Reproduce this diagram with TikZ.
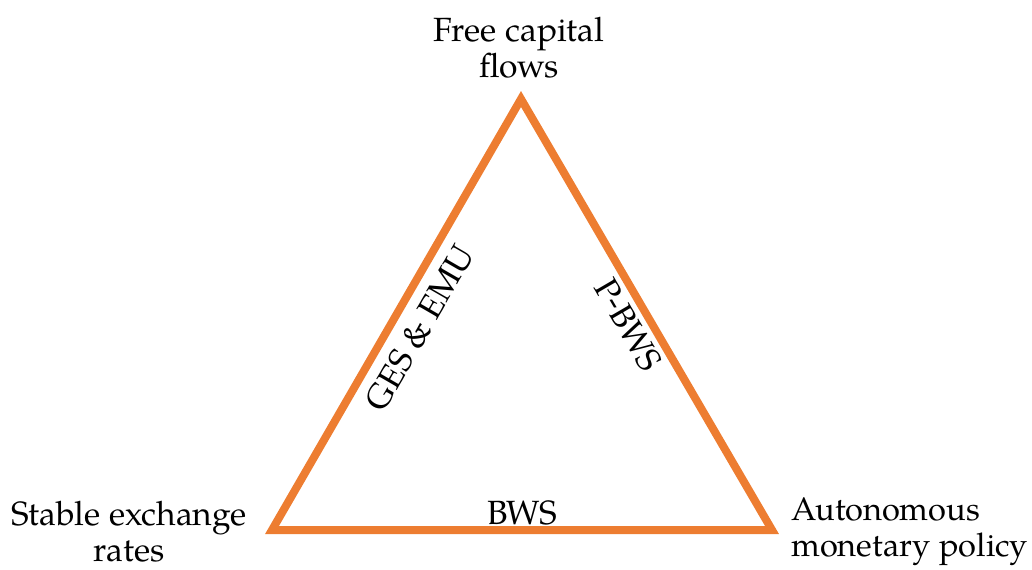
\documentclass[tikz,border=0pt]{standalone}
\usepackage{fontspec}
\setmainfont{TeX Gyre Pagella}
\definecolor{trilemma}{HTML}{ED7D31}
\tikzstyle{corner}=[align=center, inner sep=0pt, font=\fontsize{16.8}{18}\selectfont]
\tikzstyle{regime}=[inner sep=2pt, font=\fontsize{16.8}{18}\selectfont]
\newcommand{\corner}{\node[corner]}
\begin{document}
\begin{tikzpicture}[x=0.5pt, y=-0.5pt]
\useasboundingbox (0,0) rectangle (1032,569);
\coordinate (top) at (521,99);
\coordinate (left) at (272,530);
\coordinate (right) at (772,530);
\draw[trilemma, line width=4pt, line join=miter] (top) -- (left) -- (right) -- cycle;
\corner (fcf) at (519,48) {Free capital\\flows};
\corner (ser) at (129,532) {Stable exchange\\rates};
\corner[align=left, anchor=west, font=\fontsize{16.3}{18}\selectfont] (amp) at (791,532) {Autonomous\\monetary policy};
\path
(left) -- node[regime, midway, sloped, below=5pt] {GES \& EMU} (top)
(top) -- node[regime, midway, sloped, below=2pt] {P-BWS} (right)
(left) -- node[regime, midway, above] {BWS} (right)
;
\end{tikzpicture}
\end{document}
